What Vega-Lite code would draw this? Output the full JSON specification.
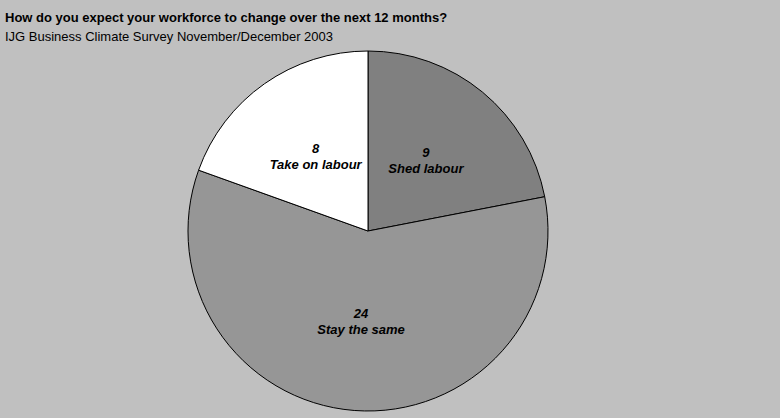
{
  "$schema": "https://vega.github.io/schema/vega-lite/v6.json",
  "autosize": {"type": "fit", "contains": "padding"},
  "width": 780,
  "height": 418,
  "padding": {"top": 12, "bottom": 5, "left": 5, "right": 49},
  "background": "#C0C0C0",
  "title": {
    "text": "How do you expect your workforce to change over the next 12 months?",
    "subtitle": "IJG Business Climate Survey November/December 2003",
    "anchor": "start",
    "frame": "group",
    "font": "Liberation Sans",
    "fontSize": 13,
    "fontWeight": "bold",
    "color": "#000000",
    "subtitleFont": "Liberation Sans",
    "subtitleFontSize": 13,
    "subtitleColor": "#000000",
    "subtitlePadding": 6,
    "offset": 5
  },
  "data": {
    "values": [
      {"category": "Shed labour", "value": 9, "order": 1},
      {"category": "Stay the same", "value": 24, "order": 2},
      {"category": "Take on labour", "value": 8, "order": 3}
    ]
  },
  "encoding": {
    "theta": {"field": "value", "type": "quantitative", "stack": true},
    "order": {"field": "order", "type": "quantitative"}
  },
  "layer": [
    {
      "mark": {"type": "arc", "stroke": "#000000", "strokeWidth": 1},
      "encoding": {
        "color": {
          "field": "category",
          "type": "nominal",
          "scale": {
            "domain": ["Shed labour", "Stay the same", "Take on labour"],
            "range": ["#808080", "#969696", "#FFFFFF"]
          },
          "legend": null
        }
      }
    },
    {
      "transform": [{"calculate": "[format(datum.value, 'd'), datum.category]", "as": "label"}],
      "mark": {
        "type": "text",
        "radius": 91,
        "dy": -8,
        "font": "Liberation Sans",
        "fontSize": 13,
        "fontWeight": "bold",
        "fontStyle": "italic",
        "lineHeight": 16,
        "align": "center",
        "baseline": "middle",
        "color": "#000000"
      },
      "encoding": {
        "text": {"field": "label"}
      }
    }
  ],
  "config": {"view": {"stroke": null}}
}
